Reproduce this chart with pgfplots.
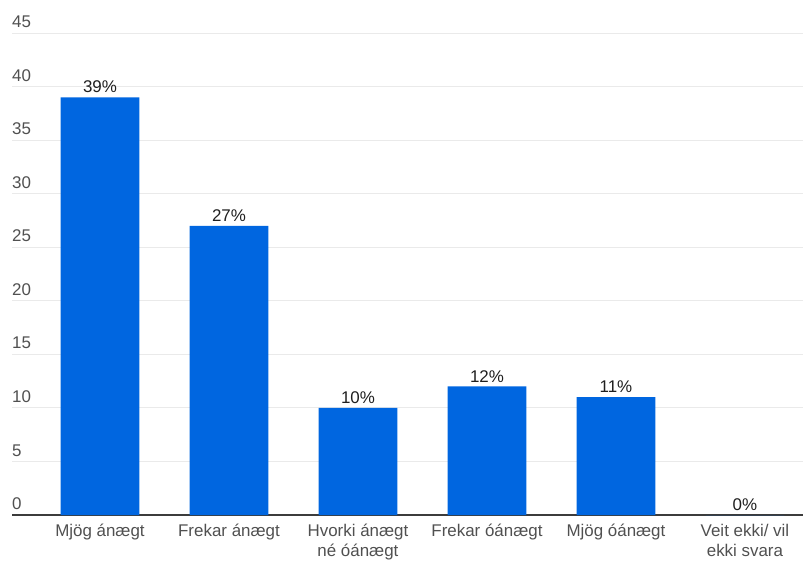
\documentclass[border=0pt]{standalone}
\usepackage{fontspec}
\setmainfont{Liberation Sans}
\usepackage{pgfplots}
\pgfplotsset{compat=1.18}
\definecolor{barblue}{RGB}{0,102,224}
\definecolor{gridc}{RGB}{234,234,234}
\definecolor{ticktext}{RGB}{80,80,80}
\definecolor{axisc}{RGB}{60,60,60}
\begin{document}
\begin{tikzpicture}
\begin{axis}[
  at={(0,0)}, anchor=south west,
  scale only axis,
  width=791bp, height=482bp,
  xmin=-0.682, xmax=5.45,
  ymin=0, ymax=45,
  ytick={0,5,...,45},
  xtick={0,1,2,3,4,5},
  xticklabels={Mjög ánægt, Frekar ánægt, {Hvorki ánægt\\né óánægt}, Frekar óánægt, Mjög óánægt, {Veit ekki/ vil\\ekki svara}},
  major tick length=0pt,
  axis x line*=bottom,
  axis y line*=left,
  y axis line style={draw=none},
  ymajorgrids,
  grid style={gridc, line width=0.8pt},
  x axis line style={axisc, line width=1.3pt, -},
  yticklabel style={anchor=south west, inner sep=0pt, xshift=0bp, yshift=5bp, font=\fontsize{17}{20}\selectfont, text=ticktext},
  xticklabel style={align=center, font=\fontsize{17}{20}\selectfont, text=ticktext, yshift=-6bp},
  /pgf/number format/assume math mode=true,
  ybar, bar width=0.611,
  nodes near coords={\pgfmathprintnumber{\pgfplotspointmeta}\%},
  nodes near coords style={font=\fontsize{17}{20}\selectfont, text=black!88, inner sep=4pt},
]
\addplot[fill=barblue, draw=none] coordinates {(0,39) (1,27) (2,10) (3,12) (4,11) (5,0)};
\end{axis}
\pgfresetboundingbox
\path[use as bounding box] (-12bp,-50bp) rectangle (791bp,515bp);
\end{tikzpicture}
\end{document}
